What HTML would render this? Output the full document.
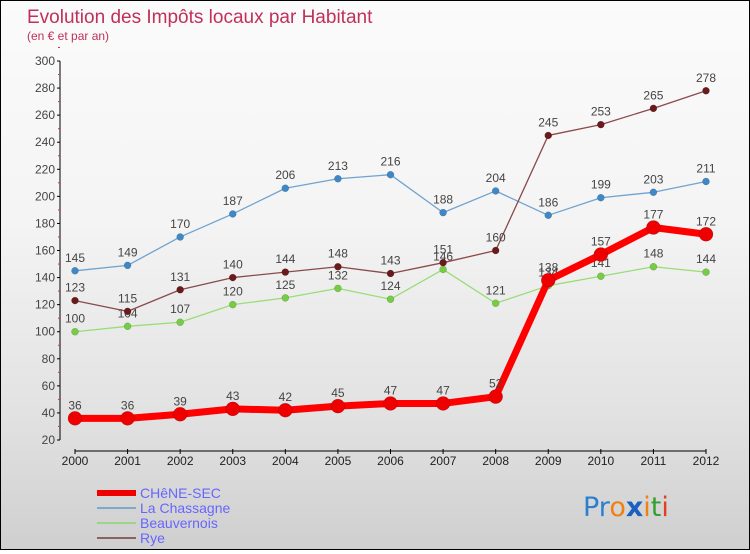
<!DOCTYPE html>
<html><head><meta charset="utf-8"><style>
html,body{margin:0;padding:0}
body{width:750px;height:550px;overflow:hidden;font-family:"Liberation Sans",sans-serif}
#wrap{position:absolute;left:0;top:0;width:748px;height:548px;border:1px solid #000;background:linear-gradient(#fbfbfb,#f4f4f4 40%,#e2e2e2 75%,#cfcfcf)}
</style></head><body>
<div id="wrap">
<svg id="svg" width="748" height="548" xmlns="http://www.w3.org/2000/svg">
<text x="26" y="22" font-size="19" fill="#c0305a">Evolution des Impôts locaux par Habitant</text>
<text x="26" y="39" font-size="12" fill="#c0305a">(en € et par an)</text>
<g id="axes"></g><g id="series"></g>
<g>
<line x1="96" y1="492" x2="135" y2="492" stroke="#ee0000" stroke-width="6"/>
<text x="139" y="497" font-size="14" fill="#6666ff">CHêNE-SEC</text>
<line x1="96" y1="507" x2="135" y2="507" stroke="#7fa9c9" stroke-width="2"/>
<text x="139" y="512" font-size="14" fill="#6666ff">La Chassagne</text>
<line x1="96" y1="522" x2="135" y2="522" stroke="#9bd48a" stroke-width="2"/>
<text x="139" y="527" font-size="14" fill="#6666ff">Beauvernois</text>
<line x1="96" y1="537" x2="135" y2="537" stroke="#8a6060" stroke-width="2"/>
<text x="139" y="542" font-size="14" fill="#6666ff">Rye</text>
</g>
<g font-size="27" font-family="'DejaVu Sans',sans-serif">
<text x="582" y="515"><tspan fill="#2a7fd0">Pr</tspan><tspan fill="#f08010">o</tspan><tspan fill="#1a60c0" font-weight="bold">x</tspan><tspan fill="#f08010">i</tspan><tspan fill="#30a030">t</tspan><tspan fill="#e04020">i</tspan></text>
</g>
</svg></div>
<script>
const years=[2000,2001,2002,2003,2004,2005,2006,2007,2008,2009,2010,2011,2012];
const yTicks=[20,40,60,80,100,120,140,160,180,200,220,240,260,280,300];
const cheneSec=[36,36,39,43,42,45,47,47,52,138,157,177,172];
const laChassagne=[145,149,170,187,206,213,216,188,204,186,199,203,211];
const beauvernois=[100,104,107,120,125,132,124,146,121,134,141,148,144];
const rye=[123,115,131,140,144,148,143,151,160,245,253,265,278];
const NS='http://www.w3.org/2000/svg';
const x0=74,x1=705,yTop=60,yBot=439,vMin=20,vMax=300;
const X=i=>x0+i*(x1-x0)/(years.length-1);
const Y=v=>yBot-(v-vMin)*(yBot-yTop)/(vMax-vMin);
function mk(tag,attrs,parent){const e=document.createElementNS(NS,tag);for(const k in attrs)e.setAttribute(k,attrs[k]);parent.appendChild(e);return e;}
const axes=document.getElementById('axes');
const ax=mk('line',{x1:x0-15,y1:yTop,x2:x0-15,y2:yBot,stroke:'#000'},axes);

yTicks.forEach(v=>{
 const y=Y(v);
 mk('line',{x1:x0-18,y1:y,x2:x0-15,y2:y,stroke:'#000'},axes);
 mk('line',{x1:x0-17,y1:Y(v+10),x2:x0-15,y2:Y(v+10),stroke:'#e03030'},axes);
 const t=mk('text',{x:x0-20,y:y+4,'font-size':12,fill:'#444','text-anchor':'end'},axes);
 t.textContent=v;
 
});
const bx=mk('line',{x1:X(0),y1:yBot+11,x2:X(years.length-1),y2:yBot+11,stroke:'#000'},axes);

years.forEach((yr,i)=>{
 mk('line',{x1:X(i),y1:yBot+9,x2:X(i),y2:yBot+14,stroke:'#000'},axes);
 const t=mk('text',{x:X(i),y:yBot+25,'font-size':12,fill:'#222','text-anchor':'middle'},axes);
 t.textContent=yr;
 
});
const S=document.getElementById('series');
function series(name,vals,color,dot,w,r){
 const g=mk('g',{},S);
 
 const p=mk('polyline',{points:vals.map((v,i)=>X(i)+','+Y(v)).join(' '),fill:'none',stroke:color,'stroke-width':w,'stroke-linejoin':'round'},g);
 
 vals.forEach((v,i)=>{
  const c=mk('circle',{cx:X(i),cy:Y(v),r:r,fill:dot,stroke:'rgba(0,0,0,0.25)','stroke-width':0.5},g);
  
  const t=mk('text',{x:X(i),y:Y(v)-9,'font-size':12,fill:'#444','text-anchor':'middle'},g);
  t.textContent=v;
  
 });
}
series('la-chassagne',laChassagne,'#6fa3d0','#3f88c8',1.3,3.5);
series('beauvernois',beauvernois,'#99dd77','#77cc44',1.3,3.5);
series('rye',rye,'#8a4a4a','#6a1a1a',1.3,3.5);
series('chene-sec',cheneSec,'#ff0000','#ee0000',7,7);
</script>
</body></html>
